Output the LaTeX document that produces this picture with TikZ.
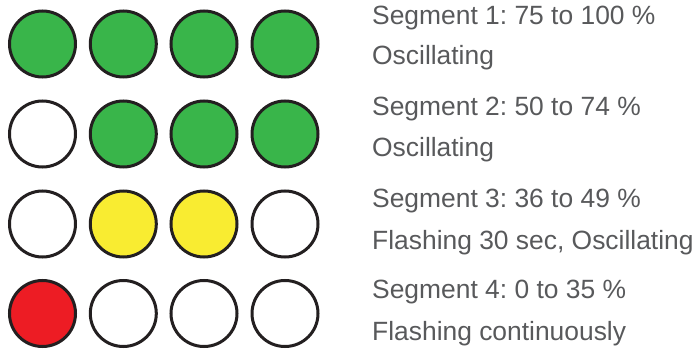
\documentclass[tikz,border=0pt]{standalone}
\usepackage{fontspec}
\setmainfont{Liberation Sans}
\frenchspacing
\definecolor{lgreen}{HTML}{39B54A}
\definecolor{lyellow}{HTML}{F9EC31}
\definecolor{lred}{HTML}{ED1C24}
\definecolor{lstroke}{HTML}{231F20}
\definecolor{ltext}{HTML}{58595B}
\begin{document}
\begin{tikzpicture}[x=1pt,y=-1pt,
  lamp/.style={circle,draw=lstroke,line width=3pt,minimum size=66pt,inner sep=0pt},
  off/.style={lamp,fill=white},
  gon/.style={lamp,fill=lgreen},
  yon/.style={lamp,fill=lyellow},
  ron/.style={lamp,fill=lred},
  lbl/.style={anchor=base west,inner sep=0pt,text=ltext,font=\fontsize{26.4}{30}\selectfont\frenchspacing}]
\useasboundingbox (0,0) rectangle (694,350);
% row 1
\node[gon] (c11) at (42.5,44) {};
\node[gon] (c12) at (123.3,44) {};
\node[gon] (c13) at (204,44) {};
\node[gon] (c14) at (285,44) {};
% row 2
\node[off] (c21) at (42.5,134) {};
\node[gon] (c22) at (123.3,134) {};
\node[gon] (c23) at (204,134) {};
\node[gon] (c24) at (285,134) {};
% row 3
\node[off] (c31) at (42.5,224) {};
\node[yon] (c32) at (123.3,224) {};
\node[yon] (c33) at (204,224) {};
\node[off] (c34) at (285,224) {};
% row 4
\node[ron] (c41) at (42.5,313.5) {};
\node[off] (c42) at (123.3,313.5) {};
\node[off] (c43) at (204,313.5) {};
\node[off] (c44) at (285,313.5) {};
% labels
\node[lbl] (t1a) at (372,25) {Segment 1: 75 to 100 \%};
\node[lbl] (t1b) at (372,65) {Oscillating};
\node[lbl] (t2a) at (372,116) {Segment 2: 50 to 74 \%};
\node[lbl] (t2b) at (372,157) {Oscillating};
\node[lbl] (t3a) at (372,207.5) {Segment 3: 36 to 49 \%};
\node[lbl] (t3b) at (372,249.5) {Flashing 30 sec, Oscillating};
\node[lbl] (t4a) at (372,298) {Segment 4: 0 to 35 \%};
\node[lbl] (t4b) at (372,340) {Flashing continuously};
\end{tikzpicture}
\end{document}
